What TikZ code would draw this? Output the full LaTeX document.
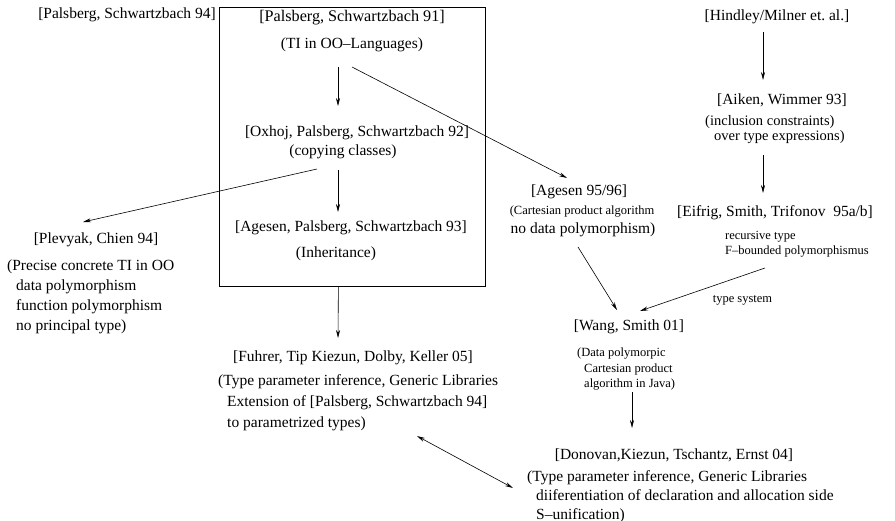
\documentclass[tikz,border=0pt]{standalone}
\usepackage{fontspec}
\setmainfont{Liberation Serif}
\usetikzlibrary{arrows.meta, calc, positioning}

\tikzset{
  ref/.style={inner sep=0pt, font=\fontsize{15.5}{18}\selectfont},
  note/.style={inner sep=0pt, align=left, font=\fontsize{12.5}{15.5}\selectfont},
  arr/.style={-{Stealth[length=8pt,width=4pt]}, line width=0.6pt},
}

\begin{document}
\begin{tikzpicture}[x=1pt, y=-1pt]
    \useasboundingbox (0,0) rectangle (895,520);

    % Frame round the Palsberg/Schwartzbach line
    \node[draw, line width=0.8pt, anchor=north west, minimum width=266pt, minimum height=279pt, inner sep=0pt] (frame) at (219,7) {};

    % Palsberg, Schwartzbach
    \node[ref] (p94) at (127,15) {[Palsberg, Schwartzbach 94]};
    \node[ref, font=\fontsize{16.2}{18}\selectfont] (p91) at (352,18) {[Palsberg, Schwartzbach 91]};
    \node[ref] (ti) at (352,45) {(TI in OO--Languages)};
    \node[ref] (ox) at (357,133) {[Oxhoj, Palsberg, Schwartzbach 92]};
    \node[ref] (cc) at (343,152) {(copying classes)};
    \node[ref] (ag93) at (351,228) {[Agesen, Palsberg, Schwartzbach 93]};
    \node[ref] (inh) at (336,254) {(Inheritance)};

    % Left branch
    \node[ref] (plev) at (96,240) {[Plevyak, Chien 94]};
    \node[ref, align=left, anchor=north west, font=\fontsize{15.5}{20}\selectfont] (plevtxt) at (7,260)
        {(Precise concrete TI in OO\\\hspace*{9pt}data polymorphism\\\hspace*{9pt}function polymorphism\\\hspace*{9pt}no principal type)};

    % Fuhrer et al.
    \node[ref] (fuh) at (353,358) {[Fuhrer, Tip Kiezun, Dolby, Keller 05]};
    \node[ref, align=left, anchor=north west, font=\fontsize{15.5}{21}\selectfont] (fuhtxt) at (218,374)
        {(Type parameter inference, Generic Libraries\\\hspace*{9pt}Extension of [Palsberg, Schwartzbach 94]\\\hspace*{9pt}to parametrized types)};

    % Right column
    \node[ref] (hm) at (777,17) {[Hindley/Milner et.\ al.]};
    \node[ref] (aw) at (782,100) {[Aiken, Wimmer 93]};
    \node[ref, align=left, anchor=north west, font=\fontsize{14.5}{15}\selectfont] (awtxt) at (705,115)
        {(inclusion constraints)\\\hspace*{9pt}over type expressions)};
    \node[ref] (est) at (775,213) {[Eifrig, Smith, Trifonov\ \ 95a/b]};
    \node[note, anchor=north west] (esttxt) at (725,231) {recursive type\\F--bounded polymorphismus};

    % Agesen 95/96
    \node[ref] (a95) at (579,192) {[Agesen 95/96]};
    \node[note] (a95c) at (582,212) {(Cartesian product algorithm};
    \node[ref] (a95d) at (583,230) {no data polymorphism)};

    % Wang, Smith and Donovan et al.
    \node[ref] (ws) at (629,327) {[Wang, Smith 01]};
    \node[note, anchor=north west] (wstxt) at (577,348)
        {(Data polymorpic\\\hspace*{7pt}Cartesian product\\\hspace*{7pt}algorithm in Java)};
    \node[ref] (dk) at (674,455) {[Donovan,Kiezun, Tschantz, Ernst 04]};
    \node[ref, align=left, anchor=north west, font=\fontsize{15.5}{19}\selectfont] (dktxt) at (527,470)
        {(Type parameter inference, Generic Libraries\\\hspace*{9pt}diiferentiation of declaration and allocation side\\\hspace*{9pt}S--unification)};

    % Arrows
    \draw[arr] ($(ti)+(-14,22)$) -- ($(ox)+(-19,-27)$);
    \draw[arr] ($(cc)+(-5,18)$) -- ($(ag93)+(-13,-16)$);
    \draw[arr] ($(frame.south)+(-14,0)$) -- ($(fuh)+(-15,-20)$);
    \draw[arr] ($(ti)+(0,22)$) -- ($(a95)+(-12,-14)$);
    \draw[arr] ($(cc)+(-26,17)$) -- ($(plev)+(-13,-18)$);
    \draw[arr] ($(a95d)+(-5,17)$) -- ($(ws)+(-12,-17)$);
    \draw[arr] ($(hm)+(-14,15)$) -- ($(aw)+(-19,-20)$);
    \draw[arr] ($(aw)+(-19,55)$) -- ($(est)+(-12,-20)$);
    \draw[arr] ($(est)+(-10,55)$) -- node[note, pos=0.18, below=19pt] (ts) {type system} ($(ws)+(11,-16)$);
    \draw[arr] ($(ws)+(3,65)$) -- ($(dk)+(-42,-27)$);
    \draw[{Stealth[length=8pt,width=4pt]}-{Stealth[length=8pt,width=4pt]}, line width=0.6pt]
        ($(fuh)+(64,78)$) -- ($(dk)+(-161,33)$);
\end{tikzpicture}
\end{document}
